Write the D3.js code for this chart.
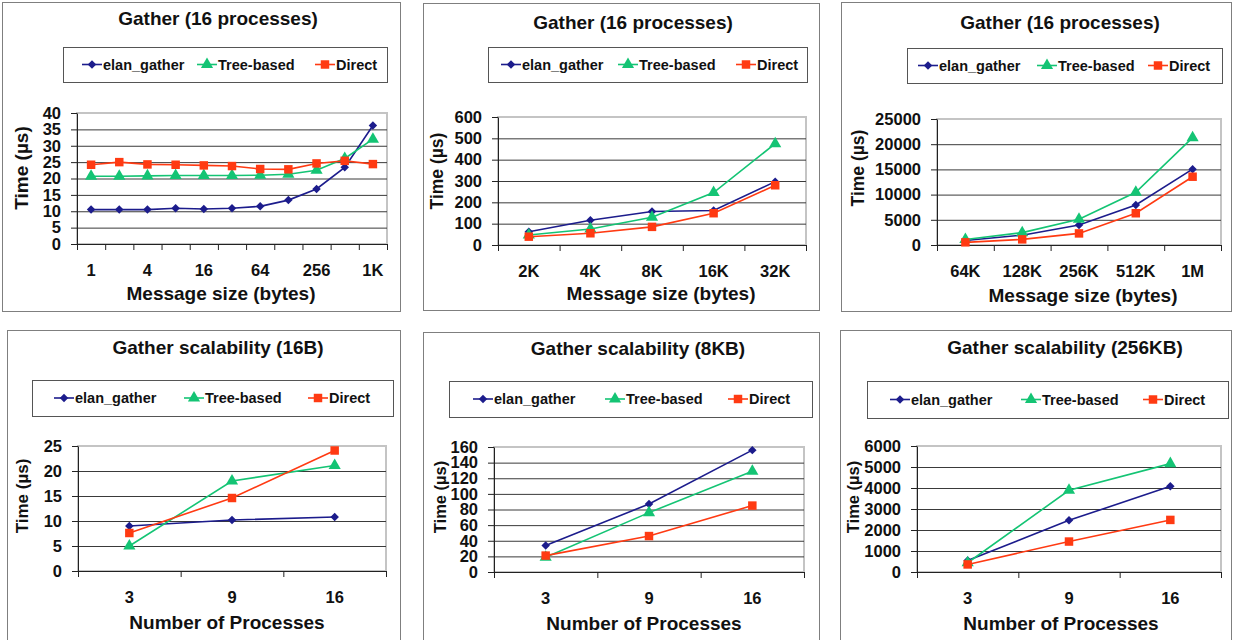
<!DOCTYPE html>
<html>
<head>
<meta charset="utf-8">
<script src="https://cdn.jsdelivr.net/npm/d3@7.9.0/dist/d3.min.js"></script>
<style>
  body { margin: 0; background: #fff; }
  svg { display: block; font-family: Arial, "Liberation Sans", sans-serif; font-weight: bold; }
</style>
</head>
<body>
<script>
// series
const seriesNames = ["elan_gather", "Tree-based", "Direct"];

// message sizes (16 processes)
const sizesSmall = ["1", "2", "4", "8", "16", "32", "64", "128", "256", "512", "1K"];
const elanSmall = [10.5, 10.5, 10.5, 10.9, 10.7, 10.9, 11.5, 13.4, 16.8, 23.4, 36.2];
const treeSmall = [20.7, 20.7, 20.8, 20.9, 20.9, 20.9, 21.0, 21.3, 22.5, 26.1, 32.0];
const directSmall = [24.2, 25.0, 24.3, 24.2, 24.0, 23.8, 22.9, 22.8, 24.6, 25.4, 24.4];
const ticksSmall = [0, 5, 10, 15, 20, 25, 30, 35, 40];

const sizesMid = ["2K", "4K", "8K", "16K", "32K"];
const elanMid = [62, 116, 157, 162, 297];
const treeMid = [47, 75, 130, 246, 475];
const directMid = [39, 55, 85, 149, 280];
const ticksMid = [0, 100, 200, 300, 400, 500, 600];

const sizesLarge = ["64K", "128K", "256K", "512K", "1M"];
const elanLarge = [900, 1950, 3950, 7950, 15050];
const treeLarge = [1100, 2450, 5100, 10450, 21300];
const directLarge = [530, 1120, 2300, 6300, 13550];
const ticksLarge = [0, 5000, 10000, 15000, 20000, 25000];

// scalability
const procs = ["3", "9", "16"];
const elan16B = [9.0, 10.2, 10.8];
const tree16B = [5.0, 18.0, 21.1];
const direct16B = [7.6, 14.6, 24.1];
const ticks16B = [0, 5, 10, 15, 20, 25];

const elan8KB = [34, 87, 156];
const tree8KB = [19, 76, 129];
const direct8KB = [21, 46, 85];
const ticks8KB = [0, 20, 40, 60, 80, 100, 120, 140, 160];

const elan256KB = [550, 2460, 4080];
const tree256KB = [440, 3890, 5160];
const direct256KB = [360, 1450, 2480];
const ticks256KB = [0, 1000, 2000, 3000, 4000, 5000, 6000];

const colors = ["#1c1c8c", "#14c474", "#ff3a12"];
const symbols = [d3.symbolSquare, d3.symbolTriangle, d3.symbolSquare];
const symbolSizes = [36, 64, 72];
const symbolRotate = [45, 0, 0];

const svg = d3.select("body").append("svg").attr("width", 1233).attr("height", 640);

const panels = [
  {
    title: "Gather (16 processes)", xTitle: "Message size (bytes)",
    cats: sizesSmall, values: [elanSmall, treeSmall, directSmall], yTicks: ticksSmall, labelEvery: 2,
    frame: [2, 2, 398, 309], titleX: 218, titleY: 18,
    legend: [63, 47, 324, 35], items: [82, 197, 315],
    plot: [77, 113, 310, 131], xTitleX: 221, xTitleY: 293, yTitleX: 21, yTitleY: 168, yTitleSize: 19,
  },
  {
    title: "Gather (16 processes)", xTitle: "Message size (bytes)",
    cats: sizesMid, values: [elanMid, treeMid, directMid], yTicks: ticksMid, labelEvery: 1,
    frame: [423, 3, 396, 307], titleX: 633, titleY: 22,
    legend: [488, 47, 319, 35], items: [501, 618, 736],
    plot: [498, 117, 308, 128], xTitleX: 661, xTitleY: 293, yTitleX: 437, yTitleY: 171, yTitleSize: 17.5,
  },
  {
    title: "Gather (16 processes)", xTitle: "Message size (bytes)",
    cats: sizesLarge, values: [elanLarge, treeLarge, directLarge], yTicks: ticksLarge, labelEvery: 1,
    frame: [841, 2, 390, 309], titleX: 1060, titleY: 22,
    legend: [907, 48, 315, 35], items: [918, 1037, 1148],
    plot: [937, 119, 284, 126], xTitleX: 1083, xTitleY: 295, yTitleX: 858, yTitleY: 168, yTitleSize: 17.5,
  },
  {
    title: "Gather scalability (16B)", xTitle: "Number of Processes",
    cats: procs, values: [elan16B, tree16B, direct16B], yTicks: ticks16B, labelEvery: 1,
    frame: [7, 330, 393, 320], titleX: 218, titleY: 347,
    legend: [32, 380, 361, 36], items: [54, 184, 308],
    plot: [78, 446, 308, 125], xTitleX: 227, xTitleY: 622, yTitleX: 22, yTitleY: 496, yTitleSize: 17,
  },
  {
    title: "Gather scalability (8KB)", xTitle: "Number of Processes",
    cats: procs, values: [elan8KB, tree8KB, direct8KB], yTicks: ticks8KB, labelEvery: 1,
    frame: [423, 332, 396, 320], titleX: 638, titleY: 348,
    legend: [449, 381, 363, 36], items: [473, 605, 728],
    plot: [494, 447, 310, 125], xTitleX: 644, xTitleY: 623, yTitleX: 440, yTitleY: 497, yTitleSize: 16.5,
  },
  {
    title: "Gather scalability (256KB)", xTitle: "Number of Processes",
    cats: procs, values: [elan256KB, tree256KB, direct256KB], yTicks: ticks256KB, labelEvery: 1,
    frame: [840, 330, 391, 320], titleX: 1065, titleY: 347,
    legend: [867, 381, 361, 37], items: [890, 1021, 1143],
    plot: [917, 446, 304, 126], xTitleX: 1061, xTitleY: 623, yTitleX: 853, yTitleY: 497, yTitleSize: 16.5,
  },
];

function drawMarker(g, i, cx, cy) {
  g.append("path")
    .attr("d", d3.symbol().type(symbols[i]).size(symbolSizes[i])())
    .attr("transform", `translate(${cx},${cy}) rotate(${symbolRotate[i]})`)
    .attr("fill", colors[i]);
}

function drawPanel(p) {
  const g = svg.append("g");
  const [fx, fy, fw, fh] = p.frame;
  g.append("rect").attr("x", fx + 0.5).attr("y", fy + 0.5).attr("width", fw).attr("height", fh)
    .attr("fill", "#fff").attr("stroke", "#7f7f7f");

  g.append("text").attr("x", p.titleX).attr("y", p.titleY).attr("text-anchor", "middle")
    .attr("dominant-baseline", "central").attr("font-size", 19).attr("fill", "#111").text(p.title);

  // legend
  const [lx, ly, lw, lh] = p.legend;
  g.append("rect").attr("x", lx + 0.5).attr("y", ly + 0.5).attr("width", lw).attr("height", lh)
    .attr("fill", "#fff").attr("stroke", "#555");
  seriesNames.forEach((name, i) => {
    const sx = p.items[i], sy = ly + lh / 2;
    g.append("line").attr("x1", sx).attr("x2", sx + 20).attr("y1", sy).attr("y2", sy)
      .attr("stroke", colors[i]).attr("stroke-width", 1.6);
    drawMarker(g, i, sx + 10, sy);
    g.append("text").attr("x", sx + 21).attr("y", sy).attr("dominant-baseline", "central")
      .attr("font-size", 14.5).attr("fill", "#111").text(name);
  });

  // plot area
  const [px, py, pw, ph] = p.plot;
  const n = p.cats.length;
  const x = d3.scaleBand().domain(p.cats).range([px, px + pw]).padding(0);
  const xb = d3.scaleLinear().domain([0, n]).range([px, px + pw]);
  const y = d3.scaleLinear().domain([0, d3.max(p.yTicks)]).range([py + ph, py]);

  g.append("rect").attr("x", px).attr("y", py).attr("width", pw).attr("height", ph)
    .attr("fill", "none").attr("stroke", "#c4c4c4").attr("stroke-width", 2);

  const grid = g.append("g").attr("transform", `translate(${px},0)`)
    .call(d3.axisRight(y).tickValues(p.yTicks.slice(1, -1)).tickSize(pw).tickFormat(""));
  grid.select(".domain").remove();
  grid.selectAll("line").attr("stroke", "#3a3a3a");

  const yAxis = g.append("g").attr("transform", `translate(${px},0)`)
    .call(d3.axisLeft(y).tickValues(p.yTicks).tickSize(6).tickSizeOuter(0).tickPadding(10)
      .tickFormat(d3.format("d")));
  yAxis.selectAll("path, line").attr("stroke", "#222");
  yAxis.selectAll("text").attr("font-size", 16.5).attr("font-family", null).attr("fill", "#111");

  const xTicks = g.append("g").attr("transform", `translate(0,${py + ph})`)
    .call(d3.axisBottom(xb).tickValues(d3.range(n + 1)).tickSize(6).tickSizeOuter(0).tickFormat(""));
  xTicks.selectAll("path, line").attr("stroke", "#222");

  const xLabels = g.append("g").attr("transform", `translate(0,${py + ph})`)
    .call(d3.axisBottom(x).tickSize(0).tickPadding(20)
      .tickFormat((d, i) => (i % p.labelEvery === 0 ? d : "")));
  xLabels.select(".domain").remove();
  xLabels.selectAll("text").attr("font-size", 16.5).attr("font-family", null).attr("fill", "#111");

  // axis titles
  g.append("text").attr("x", p.xTitleX).attr("y", p.xTitleY).attr("text-anchor", "middle")
    .attr("dominant-baseline", "central").attr("font-size", 19).attr("fill", "#111").text(p.xTitle);
  g.append("text").attr("transform", `translate(${p.yTitleX},${p.yTitleY}) rotate(-90)`)
    .attr("text-anchor", "middle").attr("dominant-baseline", "central")
    .attr("font-size", p.yTitleSize).attr("fill", "#111").text("Time (µs)");

  // series
  const cx = (i) => x(p.cats[i]) + x.bandwidth() / 2;
  p.values.forEach((vals, s) => {
    g.append("path").datum(vals)
      .attr("d", d3.line().x((d, i) => cx(i)).y((d) => y(d)))
      .attr("fill", "none").attr("stroke", colors[s]).attr("stroke-width", 1.6);
    vals.forEach((v, i) => drawMarker(g, s, cx(i), y(v)));
  });
}

panels.forEach(drawPanel);
</script>
</body>
</html>
